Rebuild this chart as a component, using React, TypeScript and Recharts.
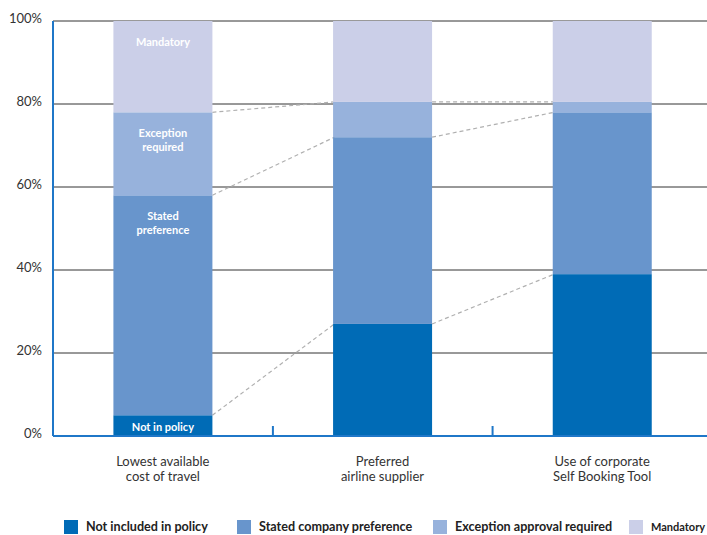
import { BarChart, Bar, XAxis, YAxis, CartesianGrid, Legend } from 'recharts'

const categories = ['Lowest available\ncost of travel', 'Preferred\nairline supplier', 'Use of corporate\nSelf Booking Tool']
const notInPolicy = [5, 27, 39]
const statedPreference = [53, 45, 39]
const exceptionRequired = [20, 8.5, 2.5]
const mandatory = [22, 19.5, 19.5]

const yTicks = [0, 20, 40, 60, 80, 100]
const seriesKeys = ['notInPolicy', 'statedPreference', 'exceptionRequired', 'mandatory']
const seriesNames = ['Not included in policy', 'Stated company preference', 'Exception approval required', 'Mandatory']
const segmentLabels = ['Not in policy', 'Stated\npreference', 'Exception\nrequired', 'Mandatory']
const seriesColors = ['#006bb6', '#6895cc', '#97b2dc', '#cbcfe8']

const data = categories.map((name, i) => ({
  name,
  notInPolicy: notInPolicy[i],
  statedPreference: statedPreference[i],
  exceptionRequired: exceptionRequired[i],
  mandatory: mandatory[i],
}))

const FONT = 'Lato, "Noto Sans", sans-serif'
const AXIS_BLUE = '#1f77c8'
const GAP = 0.275
const LEGEND_ITEM_WIDTHS = [173, 196, 196, 78]
const LEGEND_FONT_SIZES = [12.6, 12.6, 12.6, 11]

const stackTop = (row: any, upTo: number) =>
  seriesKeys.slice(0, upTo + 1).reduce((s, k) => s + row[k], 0)

// Each segment draws its own rect, the dashed link to the same segment of the
// next bar, the in-bar label (first bar only) and the category divider tick.
const makeShape = (s: number) => (props: any) => {
  const { x, y, width, height, index, fill } = props
  const row: any = data[index]
  const next: any = data[index + 1]
  const v = row[seriesKeys[s]]
  const k = v > 0 ? height / v : 0
  const y0 = y + stackTop(row, s) * k
  const band = width / (1 - 2 * GAP)
  const lines = segmentLabels[s].split('\n')
  const labelY = height < 30 ? y + height / 2 : y + 20
  return (
    <g>
      <rect x={x} y={y} width={width} height={height} fill={fill} />
      {next && s < seriesKeys.length - 1 && (
        <line
          x1={x + width}
          y1={y}
          x2={x + band + 1}
          y2={y0 - stackTop(next, s) * k}
          stroke="#b0b0b0"
          strokeWidth={1.2}
          strokeDasharray="4 3"
        />
      )}
      {next && s === 0 && (
        <line x1={x + width / 2 + band / 2} x2={x + width / 2 + band / 2} y1={y0} y2={y0 - 10} stroke={AXIS_BLUE} strokeWidth={2} />
      )}
      {index === 0 && (
        <text
          x={x + width / 2}
          y={labelY}
          textAnchor="middle"
          dominantBaseline="central"
          fill="#fff"
          fontFamily={FONT}
          fontWeight={700}
          fontSize={11}
        >
          {lines.map((t, i) => (
            <tspan key={i} x={x + width / 2} dy={i === 0 ? 0 : 14}>{t}</tspan>
          ))}
        </text>
      )}
    </g>
  )
}

const CategoryTick = ({ x, y, payload }: any) => {
  const lines = String(payload.value).split('\n')
  return (
    <text x={x} y={y} textAnchor="middle" fill="#333" fontFamily={FONT} fontSize={13}>
      {lines.map((t, i) => (
        <tspan key={i} x={x} dy={i === 0 ? 30 : 15}>{t}</tspan>
      ))}
    </text>
  )
}

const LegendContent = () => (
  <div style={{ display: 'flex', paddingLeft: 64, fontFamily: FONT, fontWeight: 700, lineHeight: '14px', color: '#222' }}>
    {seriesNames.map((n, i) => (
      <span key={n} style={{ display: 'flex', alignItems: 'center', width: LEGEND_ITEM_WIDTHS[i], whiteSpace: 'nowrap', fontSize: LEGEND_FONT_SIZES[i] }}>
        <span style={{ width: 14, height: 14, background: seriesColors[i], marginRight: 8, display: 'inline-block', flexShrink: 0 }} />
        {n}
      </span>
    ))}
  </div>
)

export default function App() {
  return (
    <div style={{ position: 'absolute', top: 0, left: 0, width: 707, height: 535, overflow: 'hidden', background: '#fff' }}>
      <BarChart
        width={712}
        height={535}
        data={data}
        margin={{ top: 21, right: 0, left: 0, bottom: 0 }}
        barCategoryGap={`${GAP * 100}%`}
      >
        <CartesianGrid horizontal vertical={false} stroke="#333" strokeWidth={1} />
        <XAxis
          dataKey="name"
          height={99}
          axisLine={{ stroke: AXIS_BLUE, strokeWidth: 2 }}
          tickLine={false}
          tickSize={0}
          tickMargin={0}
          tick={<CategoryTick />}
          interval={0}
        />
        <YAxis
          width={53}
          domain={[0, 100]}
          ticks={yTicks}
          tickFormatter={(v) => `${v}%`}
          axisLine={{ stroke: AXIS_BLUE, strokeWidth: 2 }}
          tickLine={false}
          tickSize={0}
          tickMargin={11}
          tick={{ fill: '#333', fontSize: 13, fontFamily: FONT, dy: -3 }}
        />
        <Legend
          verticalAlign="middle"
          align="center"
          content={<LegendContent />}
          wrapperStyle={{ top: 520, left: 0, width: 707, height: 14 }}
        />
        {seriesKeys.map((key, s) => (
          <Bar
            key={key}
            dataKey={key}
            name={seriesNames[s]}
            stackId="a"
            fill={seriesColors[s]}
            shape={makeShape(s)}
            isAnimationActive={false}
          />
        ))}
      </BarChart>
    </div>
  )
}
